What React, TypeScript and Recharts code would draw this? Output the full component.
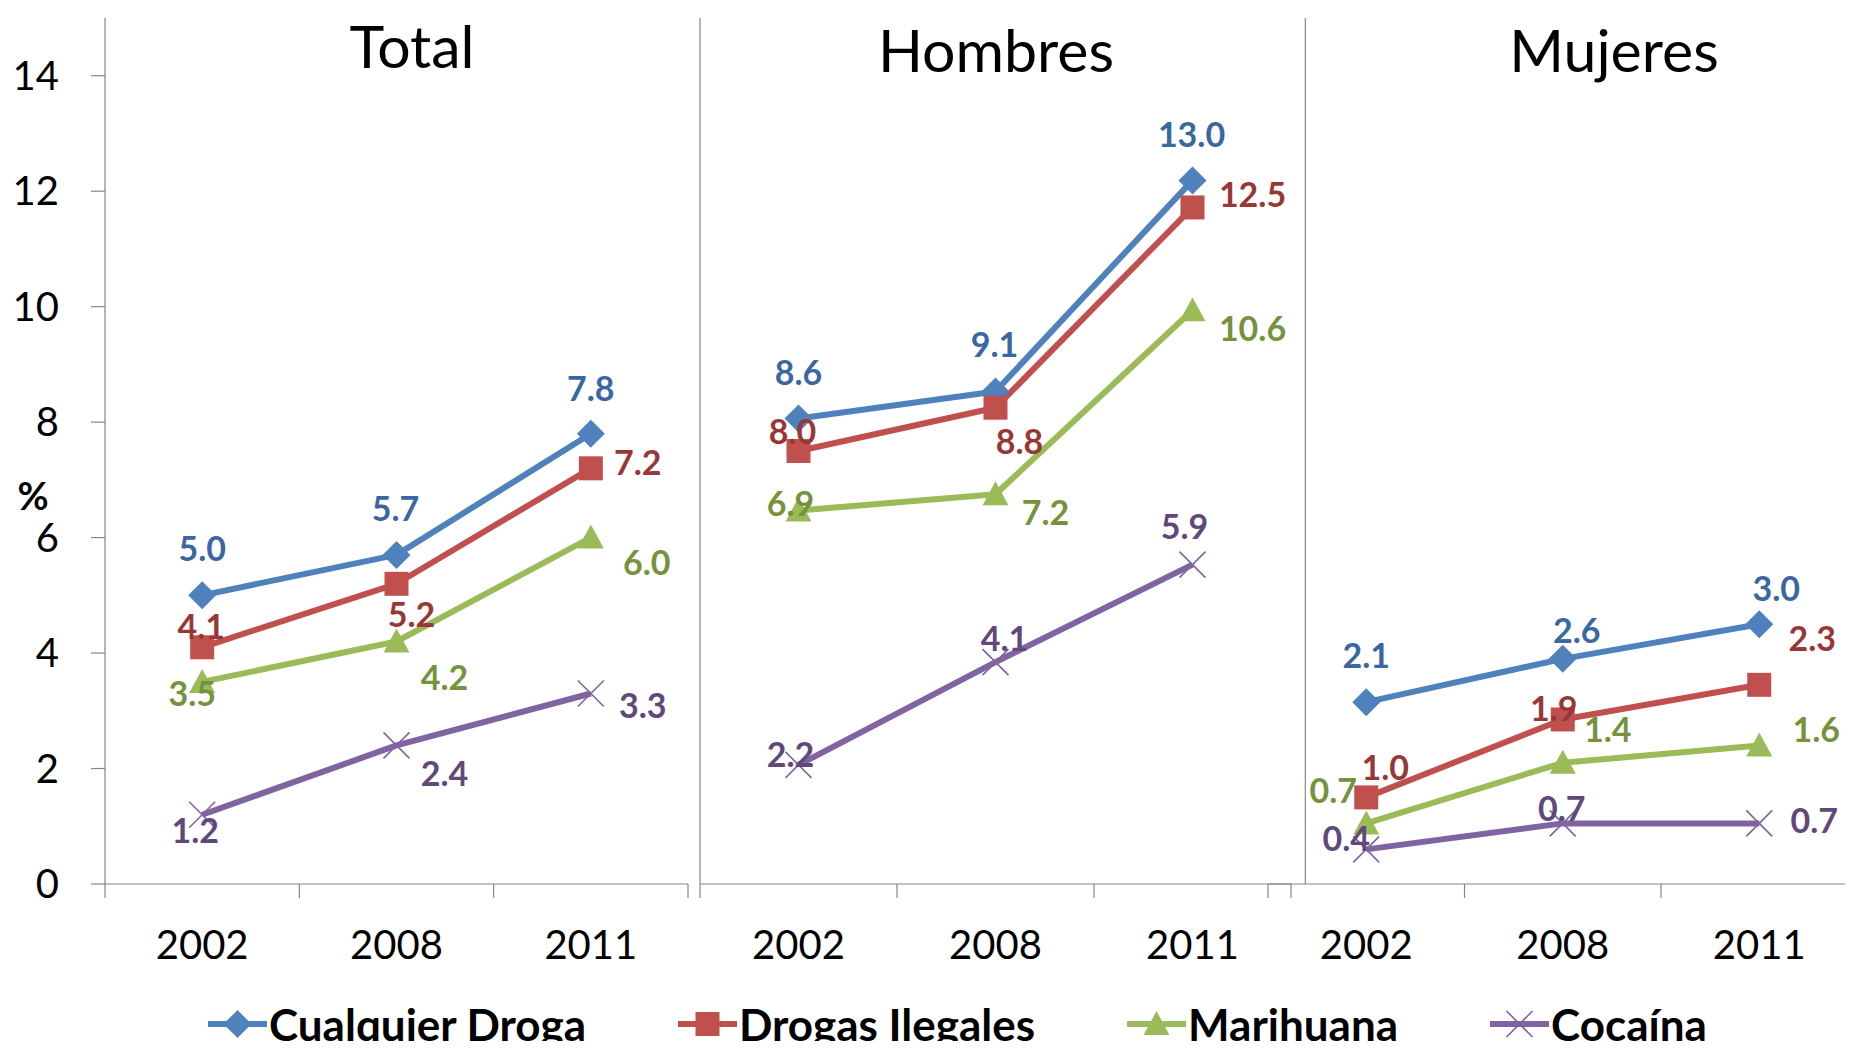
import React from 'react';
import { LineChart, Line, XAxis, YAxis, ReferenceLine, LabelList } from 'recharts';

// ---------- data ----------
const YEARS = ['2002', '2008', '2011'];
const SERIES = ['Cualquier Droga', 'Drogas Ilegales', 'Marihuana', 'Cocaína'];
const KEYS = ['cualquier', 'drogas', 'marihuana', 'cocaina'];
const PANEL_TITLES = ['Total', 'Hombres', 'Mujeres'];
const Y_TICKS_TOTAL = [0, 2, 4, 6, 8, 10, 12, 14];
const X_BOUNDARIES = [-0.5, 0.5, 1.5, 2.5];

const totalCualquier = [5.0, 5.7, 7.8];
const totalDrogas = [4.1, 5.2, 7.2];
const totalMarihuana = [3.5, 4.2, 6.0];
const totalCocaina = [1.2, 2.4, 3.3];

const hombresCualquier = [8.6, 9.1, 13.0];
const hombresDrogas = [8.0, 8.8, 12.5];
const hombresMarihuana = [6.9, 7.2, 10.6];
const hombresCocaina = [2.2, 4.1, 5.9];

const mujeresCualquier = [2.1, 2.6, 3.0];
const mujeresDrogas = [1.0, 1.9, 2.3];
const mujeresMarihuana = [0.7, 1.4, 1.6];
const mujeresCocaina = [0.4, 0.7, 0.7];

// ---------- styles ----------
const LINE_COLORS = ['#4F81BD', '#C0504D', '#9BBB59', '#8064A2'];
const LABEL_COLORS = ['#3A67A0', '#983836', '#76923C', '#5F497A'];
const SHAPES = ['diamond', 'square', 'triangle', 'x'];
const AXIS_COLOR = '#868686';
const FONT = 'Lato, "Open Sans", sans-serif';

// label placement offsets (px, relative to each point) — layout only
const OFFSETS_TOTAL = [
  [[0, -47], [-1, -46], [0, -45]],
  [[-1, -21], [15, 31], [47, -6]],
  [[-10, 12], [48, 36], [56, 25]],
  [[-7, 16], [48, 28], [52, 12]],
];
const OFFSETS_HOMBRES = [
  [[0, -46], [-1, -47], [-1, -46]],
  [[-6, -19], [24, 34], [60, -13]],
  [[-8, -7], [50, 18], [60, 18]],
  [[-8, -10], [9, -23], [-8, -38]],
];
const OFFSETS_MUJERES = [
  [[0, -46], [14, -28], [17, -35]],
  [[19, -30], [-9, -11], [53, -46]],
  [[-33, -33], [45, -33], [57, -16]],
  [[-20, -11], [-1, -15], [55, -3]],
];

function buildRows(cols: number[][]) {
  return YEARS.map((year, i) => {
    const row: any = { idx: i, year };
    KEYS.forEach((k, s) => {
      row[k] = cols[s][i];
    });
    return row;
  });
}

const totalRows = buildRows([totalCualquier, totalDrogas, totalMarihuana, totalCocaina]);
const hombresRows = buildRows([hombresCualquier, hombresDrogas, hombresMarihuana, hombresCocaina]);
const mujeresRows = buildRows([mujeresCualquier, mujeresDrogas, mujeresMarihuana, mujeresCocaina]);

function Marker({ shape, cx, cy, color }: any) {
  if (cx == null || cy == null) return null;
  switch (shape) {
    case 'diamond':
      return <path d={`M${cx},${cy - 14}L${cx + 14},${cy}L${cx},${cy + 14}L${cx - 14},${cy}Z`} fill={color} />;
    case 'square':
      return <rect x={cx - 12} y={cy - 12} width={24} height={24} fill={color} />;
    case 'triangle':
      return <path d={`M${cx},${cy - 13}L${cx + 13},${cy + 11}L${cx - 13},${cy + 11}Z`} fill={color} />;
    default:
      return (
        <path
          d={`M${cx - 13},${cy - 13}L${cx + 13},${cy + 13}M${cx + 13},${cy - 13}L${cx - 13},${cy + 13}`}
          stroke={color}
          strokeWidth={1.6}
          fill="none"
        />
      );
  }
}

function makeDot(s: number) {
  return (props: any) => (
    <g key={`dot-${s}-${props.index}`}>
      <Marker shape={SHAPES[s]} cx={props.cx} cy={props.cy} color={LINE_COLORS[s]} />
    </g>
  );
}

function makeLabel(s: number, offsets: number[][][]) {
  return (props: any) => {
    const x = props.x ?? props.viewBox?.x;
    const y = props.y ?? props.viewBox?.y;
    const i = props.index ?? 0;
    const off = offsets[s][i] || [0, -40];
    if (x == null || y == null || props.value == null) return null;
    return (
      <text
        key={`lbl-${s}-${i}`}
        x={x + off[0]}
        y={y + off[1]}
        dy="0.36em"
        textAnchor="middle"
        fontSize={34}
        fontWeight={700}
        fontFamily={FONT}
        fill={LABEL_COLORS[s]}
      >
        {Number(props.value).toFixed(1)}
      </text>
    );
  };
}

function makeXTick(band: number) {
  return (props: any) => {
    const { x, y, payload, index } = props;
    const v = payload?.value;
    if (v == null || v > 2) return <g key={`xt-${index}`} />;
    const i = Math.round(v + 0.5);
    return (
      <g key={`xt-${index}`}>
        <text
          x={x + band / 2}
          y={y + 45}
          dy="0.36em"
          textAnchor="middle"
          fontSize={40}
          fontFamily={FONT}
          fill="#000"
        >
          {YEARS[i]}
        </text>
      </g>
    );
  };
}

const CHART_W = 700;
const CHART_H = 1000;
const TOP = 18;
const BOTTOM_MARGIN = 16;
const X_AXIS_H = 100;

function Panel({ left, marginLeft, marginRight, yAxisWidth, yMode, domain, rows, offsets, separatorX }: any) {
  const plotW = CHART_W - marginLeft - yAxisWidth - marginRight;
  const band = plotW / 3;
  return (
    <div style={{ position: 'absolute', left, top: 0 }}>
      <LineChart
        width={CHART_W}
        height={CHART_H}
        data={rows}
        margin={{ top: TOP, right: marginRight, bottom: BOTTOM_MARGIN, left: marginLeft }}
      >
        <XAxis
          dataKey="idx"
          type="number"
          domain={[-0.5, 2.5]}
          ticks={X_BOUNDARIES}
          interval={0}
          height={X_AXIS_H}
          tickSize={14}
          axisLine={{ stroke: AXIS_COLOR, strokeWidth: 1.2 }}
          tickLine={{ stroke: AXIS_COLOR, strokeWidth: 1.2 }}
          tick={makeXTick(band)}
          allowDataOverflow
        />
        {yMode === 'full' && (
          <YAxis
            domain={domain}
            ticks={Y_TICKS_TOTAL}
            interval={0}
            width={yAxisWidth}
            tickSize={14}
            tickMargin={32}
            axisLine={{ stroke: AXIS_COLOR, strokeWidth: 1.2 }}
            tickLine={{ stroke: AXIS_COLOR, strokeWidth: 1.2 }}
            tick={{ fontSize: 40, fill: '#000', fontFamily: FONT }}
            allowDataOverflow
          />
        )}
        {yMode === 'line' && (
          <YAxis
            domain={domain}
            width={yAxisWidth}
            tick={false}
            tickLine={false}
            axisLine={{ stroke: AXIS_COLOR, strokeWidth: 1.2 }}
            allowDataOverflow
          />
        )}
        {yMode === 'hidden' && <YAxis domain={domain} hide allowDataOverflow />}
        {separatorX != null && (
          <ReferenceLine x={separatorX} stroke={AXIS_COLOR} strokeWidth={1.2} ifOverflow="extendDomain" />
        )}
        {KEYS.map((k, s) => (
          <Line
            key={k}
            dataKey={k}
            type="linear"
            stroke={LINE_COLORS[s]}
            strokeWidth={6}
            strokeLinejoin="round"
            dot={makeDot(s)}
            activeDot={false}
            isAnimationActive={false}
          >
            <LabelList dataKey={k} content={makeLabel(s, offsets)} />
          </Line>
        ))}
      </LineChart>
    </div>
  );
}

function LegendIcon({ s }: { s: number }) {
  return (
    <svg width={59} height={32} style={{ display: 'block' }}>
      <line x1={0} y1={16} x2={59} y2={16} stroke={LINE_COLORS[s]} strokeWidth={6} />
      <Marker shape={SHAPES[s]} cx={29.5} cy={16} color={LINE_COLORS[s]} />
    </svg>
  );
}

export default function App() {
  return (
    <div
      style={{
        position: 'relative',
        width: 1853,
        height: 1049,
        margin: -8,
        overflow: 'hidden',
        background: '#fff',
        fontFamily: FONT,
      }}
    >
      <Panel
        left={0}
        marginLeft={0}
        yAxisWidth={105}
        marginRight={12}
        yMode="full"
        domain={[0, 15]}
        rows={totalRows}
        offsets={OFFSETS_TOTAL}
      />
      <Panel
        left={600}
        marginLeft={99}
        yAxisWidth={1}
        marginRight={9}
        yMode="line"
        domain={[0, 16]}
        rows={hombresRows}
        offsets={OFFSETS_HOMBRES}
      />
      <Panel
        left={1200}
        marginLeft={68}
        yAxisWidth={0}
        marginRight={42.5}
        yMode="hidden"
        domain={[0, 10]}
        rows={mujeresRows}
        offsets={OFFSETS_MUJERES}
        separatorX={-0.31}
      />
      <svg
        width={1853}
        height={1049}
        style={{ position: 'absolute', left: 0, top: 0, pointerEvents: 'none' }}
      >
        <text x={412} y={68} textAnchor="middle" fontSize={59} fontFamily={FONT} fill="#000">
          {PANEL_TITLES[0]}
        </text>
        <text x={996} y={72} textAnchor="middle" fontSize={59} fontFamily={FONT} fill="#000">
          {PANEL_TITLES[1]}
        </text>
        <text x={1614} y={72} textAnchor="middle" fontSize={59} fontFamily={FONT} fill="#000">
          {PANEL_TITLES[2]}
        </text>
        <text x={33} y={496} dy="0.36em" textAnchor="middle" fontSize={38} fontWeight={700} fontFamily={FONT} fill="#000">
          %
        </text>
      </svg>
      <div
        style={{
          position: 'absolute',
          left: 208,
          top: 999,
          height: 50,
          display: 'flex',
          alignItems: 'center',
          gap: 92,
          whiteSpace: 'nowrap',
        }}
      >
        {SERIES.map((name, s) => (
          <div key={name} style={{ display: 'flex', alignItems: 'center' }}>
            <LegendIcon s={s} />
            <span
              style={{
                marginLeft: 2,
                fontSize: 44,
                fontWeight: 700,
                fontFamily: FONT,
                lineHeight: '50px',
                color: '#000',
              }}
            >
              {name}
            </span>
          </div>
        ))}
      </div>
    </div>
  );
}
